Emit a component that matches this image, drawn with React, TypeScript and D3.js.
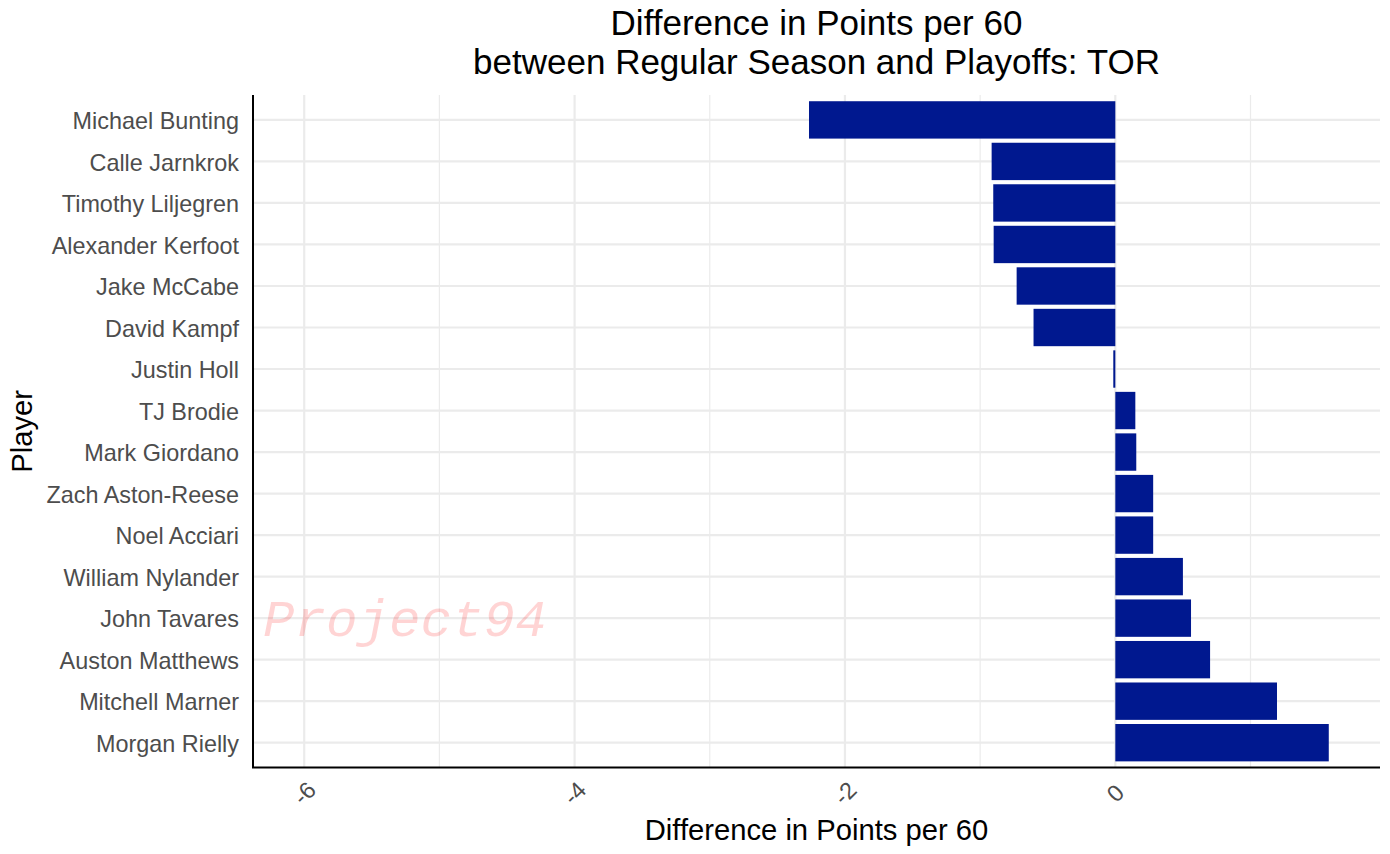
import React from "react";
import * as d3 from "d3";

const players = [
  "Michael Bunting",
  "Calle Jarnkrok",
  "Timothy Liljegren",
  "Alexander Kerfoot",
  "Jake McCabe",
  "David Kampf",
  "Justin Holl",
  "TJ Brodie",
  "Mark Giordano",
  "Zach Aston-Reese",
  "Noel Acciari",
  "William Nylander",
  "John Tavares",
  "Auston Matthews",
  "Mitchell Marner",
  "Morgan Rielly",
];
const diffs = [
  -2.266, -0.915, -0.903, -0.9, -0.73, -0.605, -0.015, 0.148, 0.155, 0.28, 0.28,
  0.5, 0.56, 0.701, 1.196, 1.579,
];
const majorTicks = [-6, -4, -2, 0];
const minorTicks = [-5, -3, -1, 1];
const titleLines = [
  "Difference in Points per 60",
  "between Regular Season and Playoffs: TOR",
];
const xTitle = "Difference in Points per 60";
const yTitle = "Player";
const watermark = "Project94";

const W = 1390;
const H = 854;
const left = 253;
const right = 1380;
const top = 95;
const bottom = 767.6;

export default function App() {
  const xmin = -6;
  const xmax = d3.max(diffs) as number;
  const pad = (xmax - xmin) * 0.05;
  const x = d3.scaleLinear().domain([xmin - pad, xmax + pad]).range([left, right]);
  const y = d3.scalePoint<string>().domain(players).range([top, bottom]).padding(0.6);
  const step = y.step();
  const bh = step * 0.9;
  const font = "'Liberation Sans', Arial, Helvetica, sans-serif";
  const cx = (left + right) / 2;

  return (
    <div style={{ position: "absolute", left: 0, top: 0 }}>
      <svg width={W} height={H} style={{ display: "block", background: "#fff" }}>
        {/* grid */}
        {minorTicks.map((t) => (
          <line key={"mi" + t} x1={x(t)} x2={x(t)} y1={top} y2={bottom} stroke="#ebebeb" strokeWidth={1.2} />
        ))}
        {majorTicks.map((t) => (
          <line key={"ma" + t} x1={x(t)} x2={x(t)} y1={top} y2={bottom} stroke="#ebebeb" strokeWidth={2.2} />
        ))}
        {players.map((p) => (
          <line key={"h" + p} x1={left} x2={right} y1={y(p)} y2={y(p)} stroke="#ebebeb" strokeWidth={2.2} />
        ))}
        {/* watermark */}
        <text
          x={263}
          y={636}
          fontFamily="'Liberation Mono', 'Courier New', Courier, monospace"
          fontStyle="italic"
          fontSize={52.5}
          fill="#ff0000"
          fillOpacity={0.17}
        >
          {watermark}
        </text>
        {/* bars */}
        {players.map((p, i) => {
          const v = diffs[i];
          const x0 = x(Math.min(0, v));
          const x1 = x(Math.max(0, v));
          return (
            <rect
              key={"b" + p}
              x={x0}
              y={(y(p) as number) - bh / 2}
              width={Math.max(x1 - x0, 1.5)}
              height={bh}
              fill="#00188f"
            />
          );
        })}
        {/* axes */}
        <line x1={left} x2={left} y1={top} y2={bottom} stroke="#000" strokeWidth={2} />
        <line x1={left - 1} x2={right} y1={bottom} y2={bottom} stroke="#000" strokeWidth={2} />
        {/* y labels */}
        {players.map((p) => (
          <text
            key={"yl" + p}
            x={239}
            y={(y(p) as number) + 1}
            dy="0.35em"
            textAnchor="end"
            fontFamily={font}
            fontSize={23.4}
            fill="#4d4d4d"
          >
            {p}
          </text>
        ))}
        {/* x tick labels */}
        {majorTicks.map((t) => (
          <text
            key={"xl" + t}
            transform={`translate(${x(t)},793) rotate(-45)`}
            textAnchor="middle"
            dy="0.35em"
            fontFamily={font}
            fontSize={23.4}
            fill="#4d4d4d"
          >
            {t === 0 ? "0" : "-" + Math.abs(t)}
          </text>
        ))}
        {/* titles */}
        {titleLines.map((l, i) => (
          <text
            key={"t" + i}
            x={cx}
            y={35 + i * 39}
            textAnchor="middle"
            fontFamily={font}
            fontSize={35}
            fill="#000"
          >
            {l}
          </text>
        ))}
        <text x={cx} y={840} textAnchor="middle" fontFamily={font} fontSize={29.2} fill="#000">
          {xTitle}
        </text>
        <text
          transform={`translate(32,${(top + bottom) / 2}) rotate(-90)`}
          textAnchor="middle"
          fontFamily={font}
          fontSize={29.2}
          fill="#000"
        >
          {yTitle}
        </text>
      </svg>
    </div>
  );
}
